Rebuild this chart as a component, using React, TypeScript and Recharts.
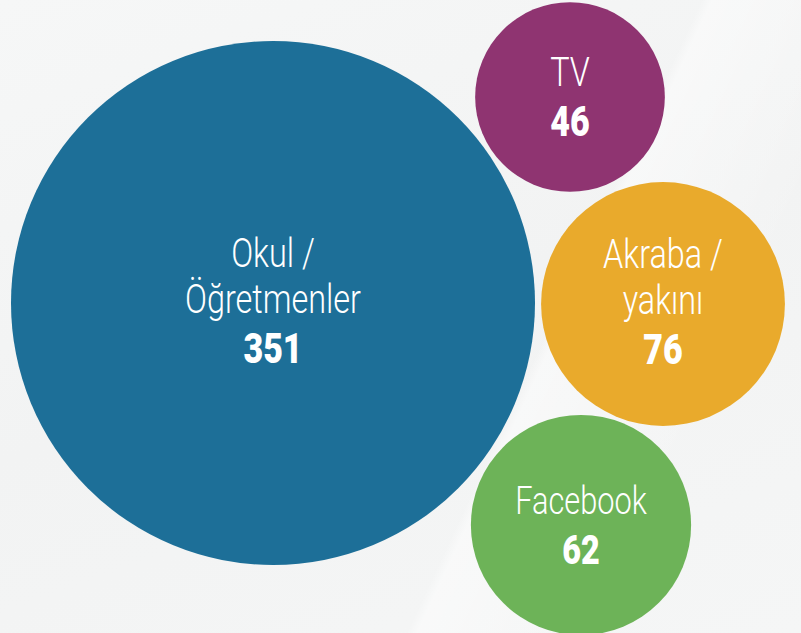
import React from 'react';
import { ScatterChart, Scatter, XAxis, YAxis, ZAxis } from 'recharts';

// kaynaklar (sources) and counts
const categories = ['Okul / Öğretmenler', 'TV', 'Akraba / yakını', 'Facebook'];
const labelLines = [['Okul /', 'Öğretmenler'], ['TV'], ['Akraba /', 'yakını'], ['Facebook']];
const values = [351, 46, 76, 62];

// packed layout (chart units = px of the 801x633 canvas)
const bubbleX = [273, 570, 663, 581];
const bubbleY = [303, 97, 304, 525];

const colors = ['#1d6f98', '#8f3471', '#e9aa2c', '#6db358'];

const W = 801;
const H = 633;
const MAX_R = 262;
const FONT = "Roboto, 'Liberation Sans', sans-serif";
const SQUEEZE = 0.81; // fake a condensed face

const data = categories.map((name, i) => ({
  name,
  lines: labelLines[i],
  value: values[i],
  x: bubbleX[i],
  y: bubbleY[i],
  color: colors[i],
}));

const Bubble = (props: any) => {
  const { cx, cy, width, payload } = props;
  const r = width / 2;
  const lines: string[] = payload.lines;
  const n = lines.length;
  const fs = payload.name === 'Facebook' ? 38 : 40;
  const numBase = cy + 39 + (n - 1) * 21;
  return (
    <g>
      <circle cx={cx} cy={cy} r={r} fill={payload.color} />
      <g transform={`translate(${cx},0) scale(${SQUEEZE},1)`}>
        {lines.map((t, i) => (
          <text
            key={i}
            x={0}
            y={numBase - 50 - (n - 1 - i) * 46}
            textAnchor="middle"
            fill="#fff"
            fontFamily={FONT}
            fontWeight={300}
            fontSize={fs}
          >
            {t}
          </text>
        ))}
        <text
          x={0}
          y={numBase}
          textAnchor="middle"
          fill="#fff"
          fontFamily={FONT}
          fontWeight={900}
          fontSize={fs + 2}
        >
          {payload.value}
        </text>
      </g>
    </g>
  );
};

export default function App() {
  return (
    <div
      style={{
        position: 'absolute',
        top: 0,
        left: 0,
        width: W,
        height: H,
        overflow: 'hidden',
        background:
          'linear-gradient(115deg, rgba(255,255,255,0) 0%, rgba(255,255,255,0) 64%, rgba(255,255,255,0.45) 65%, rgba(255,255,255,0) 82%), linear-gradient(160deg, #f6f7f7 0%, #f2f3f3 50%, #f5f6f6 100%)',
      }}
    >
      <ScatterChart width={W} height={H} margin={{ top: 0, right: 0, bottom: 0, left: 0 }}>
        <XAxis type="number" dataKey="x" domain={[0, W]} hide />
        <YAxis type="number" dataKey="y" domain={[0, H]} reversed hide />
        <ZAxis type="number" dataKey="value" domain={[0, 'dataMax']} range={[0, Math.PI * MAX_R * MAX_R]} />
        <Scatter data={data} shape={Bubble} isAnimationActive={false} />
      </ScatterChart>
    </div>
  );
}
